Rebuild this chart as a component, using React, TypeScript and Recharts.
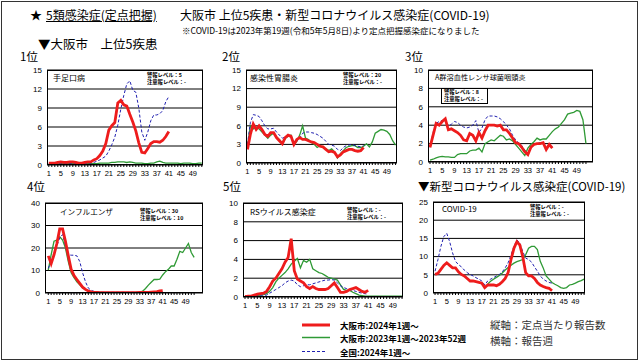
import React from "react";
import { LineChart, Line, XAxis, YAxis, CartesianGrid } from "recharts";

const JP = '"Noto Sans CJK JP", sans-serif';
const NUM = '"Liberation Sans", Arial, sans-serif';

const WEEKS = Array.from({ length: 52 }, (_, i) => i + 1);

// 手足口病
const hfmdOsaka2024 = [0.3, 0.3, 0.3, 0.4, 0.5, 0.4, 0.4, 0.5, 0.5, 0.4, 0.3, 0.3, 0.4, 0.5, 0.5, 0.8, 1.0, 1.5, 2.2, 3.4, 5.5, 6.2, 6.7, 9.8, 10.2, 9.5, 9.3, 8.0, 6.8, 5.4, 3.5, 2.0, 1.9, 2.6, 3.4, 3.7, 3.7, 3.6, 3.9, 4.5, 5.3];
const hfmdOsaka2023 = [0.2, 0.2, 0.2, 0.3, 0.3, 0.2, 0.2, 0.2, 0.3, 0.2, 0.2, 0.2, 0.2, 0.2, 0.2, 0.2, 0.2, 0.3, 0.3, 0.3, 0.3, 0.4, 0.4, 0.5, 0.5, 0.5, 0.4, 0.5, 0.4, 0.3, 0.3, 0.3, 0.2, 0.2, 0.3, 0.3, 0.5, 0.6, 0.4, 0.3, 0.3, 0.3, 0.3, 0.3, 0.2, 0.3, 0.3, 0.3, 0.2, 0.2, 0.3, 0.3];
const hfmdNational2024 = [0.2, 0.2, 0.2, 0.2, 0.2, 0.2, 0.2, 0.2, 0.2, 0.2, 0.2, 0.2, 0.2, 0.3, 0.3, 0.4, 0.6, 0.8, 1.1, 1.4, 2.2, 3.2, 4.4, 6.3, 8.8, 11.0, 12.8, 13.3, 11.8, 11.5, 9.0, 5.2, 3.9, 5.2, 7.0, 7.9, 7.9, 8.1, 8.6, 10.0, 10.8];

// 感染性胃腸炎
const gastroOsaka2024 = [2.2, 4.6, 6.3, 5.4, 6.0, 5.4, 4.6, 4.3, 4.9, 4.9, 4.1, 3.6, 3.1, 4.1, 4.5, 4.3, 3.0, 3.8, 4.1, 3.8, 3.8, 3.6, 3.4, 3.3, 3.0, 2.7, 2.6, 2.2, 1.8, 1.9, 1.7, 1.0, 1.3, 1.8, 2.0, 2.2, 2.2, 2.0, 1.9, 2.0, 2.5];
const gastroOsaka2023 = [2.5, 6.0, 5.5, 5.8, 5.5, 5.0, 4.5, 4.0, 4.5, 4.8, 4.2, 3.8, 3.2, 4.0, 4.3, 4.5, 3.0, 3.5, 4.5, 6.0, 4.0, 3.8, 3.3, 3.0, 2.5, 2.8, 2.5, 2.3, 2.0, 2.3, 1.8, 0.8, 1.5, 2.0, 2.5, 2.7, 2.8, 2.8, 2.5, 2.5, 2.7, 3.1, 2.6, 3.4, 4.8, 5.1, 5.4, 5.3, 5.1, 4.6, 3.6, 2.9];
const gastroNational2024 = [3.0, 6.5, 7.8, 7.7, 7.5, 6.8, 6.0, 5.5, 5.5, 5.6, 5.0, 4.5, 4.0, 4.2, 4.5, 4.2, 3.2, 3.5, 4.0, 4.8, 5.0, 5.0, 4.9, 4.8, 4.6, 4.3, 4.0, 3.5, 3.0, 2.9, 2.7, 2.2, 2.0, 2.5, 2.8, 2.9, 3.0, 2.8, 2.7, 2.6, 2.8];

// A群溶血性レンサ球菌咽頭炎
const strepOsaka2024 = [1.6, 2.9, 4.2, 4.0, 4.4, 4.7, 3.5, 3.6, 3.4, 3.2, 2.9, 2.4, 2.3, 3.1, 2.9, 2.3, 3.2, 2.6, 3.4, 4.0, 4.0, 4.0, 3.9, 4.0, 3.5, 3.5, 3.1, 2.6, 2.1, 2.0, 1.6, 1.1, 0.8, 1.6, 1.9, 2.0, 2.0, 2.1, 1.35, 1.9, 1.5];
const strepOsaka2023 = [0.2, 0.3, 0.45, 0.55, 0.6, 0.55, 0.55, 0.5, 0.5, 0.8, 0.9, 0.9, 0.9, 1.2, 1.3, 1.3, 1.5, 1.1, 2.0, 2.2, 2.4, 2.3, 2.6, 2.9, 2.8, 2.4, 2.5, 2.3, 1.9, 1.5, 1.1, 0.7, 1.5, 1.9, 2.2, 2.6, 2.4, 2.5, 2.5, 2.9, 3.3, 3.6, 3.8, 4.2, 4.6, 5.2, 5.3, 5.4, 5.6, 5.5, 4.6, 2.0];
const strepNational2024 = [1.6, 3.2, 4.2, 4.4, 4.5, 4.7, 3.9, 4.1, 4.4, 4.3, 4.0, 3.8, 3.7, 3.8, 4.0, 4.5, 3.2, 3.7, 4.6, 5.0, 5.0, 5.0, 4.9, 4.7, 4.4, 4.0, 3.6, 2.9, 2.4, 2.1, 1.8, 1.3, 1.0, 1.6, 1.9, 2.0, 2.1, 2.0, 1.8, 1.8, 1.7];

// インフルエンザ
const fluOsaka2024 = [16.5, 13, 17, 22, 28.5, 28.5, 23, 16.5, 10.5, 7.8, 6, 4.3, 2.6, 1.6, 0.9, 0.5, 0.3, 0.3, 0.2, 0.2, 0.2, 0.2, 0.2, 0.2, 0.2, 0.2, 0.2, 0.2, 0.2, 0.2, 0.2, 0.2, 0.3, 0.3, 0.3, 0.3, 0.4, 0.5, 0.6, 0.9, 1.0];
const fluOsaka2023 = [10.2, 17, 23, 23.5, 25, 23.5, 20, 14, 9, 6.8, 5, 3.6, 2.3, 1.5, 0.9, 0.5, 0.3, 0.3, 0.3, 0.2, 0.2, 0.2, 0.2, 0.2, 0.2, 0.2, 0.2, 0.2, 0.2, 0.2, 0.2, 0.3, 0.3, 0.8, 2, 3.5, 4.8, 6, 6, 6.2, 8, 9.5, 10.5, 12, 12, 15, 18.5, 18, 20, 22, 18, 15.8];
const fluNational2024 = [11, 14, 17, 21, 24.5, 26, 21, 17, 16.8, 16.8, 16.5, 14, 9, 5, 2.2, 1.2, 0.7, 0.5, 0.4, 0.3, 0.3, 0.3, 0.3, 0.3, 0.3, 0.3, 0.3, 0.3, 0.3, 0.3, 0.3, 0.3, 0.3, 0.3, 0.3, 0.3, 0.3, 0.3, 0.4, 0.4, 0.5];

// RSウイルス感染症
const rsvOsaka2024 = [0.05, 0.1, 0.1, 0.2, 0.3, 0.35, 0.4, 0.6, 1.1, 1.7, 2.0, 2.5, 3.0, 3.7, 4.2, 6.2, 2.8, 1.9, 1.7, 1.5, 1.1, 0.9, 1.1, 0.9, 0.8, 0.8, 0.8, 0.9, 1.2, 1.5, 1.0, 0.5, 0.5, 0.6, 0.8, 0.9, 1.0, 0.8, 0.6, 0.5, 0.7];
const rsvOsaka2023 = [0.1, 0.1, 0.1, 0.1, 0.15, 0.2, 0.25, 0.35, 0.6, 1.0, 1.6, 2.0, 2.3, 2.6, 3.0, 3.5, 3.8, 4.1, 3.1, 3.9, 3.7, 4.0, 3.0, 2.8, 2.6, 2.5, 2.3, 2.1, 2.0, 1.9, 1.8, 1.3, 0.8, 0.7, 0.7, 0.5, 0.35, 0.2, 0.15, 0.1, 0.1, 0.1, 0.1, 0.1, 0.1, 0.1, 0.1, 0.1, 0.1, 0.1, 0.1, 0.1];
const rsvNational2024 = [0.1, 0.1, 0.1, 0.1, 0.15, 0.2, 0.2, 0.2, 0.4, 0.6, 0.8, 1.0, 1.2, 1.5, 1.7, 1.8, 1.7, 1.3, 1.1, 1.2, 1.3, 1.3, 1.4, 1.5, 1.6, 1.7, 1.8, 1.8, 1.85, 1.8, 1.5, 1.2, 1.0, 0.9, 0.8, 0.7, 0.6, 0.5, 0.4, 0.35, 0.3];

// COVID-19 (2023年は第19週から定点把握)
const covidOsaka2024 = [5.1, 5.4, 6.5, 7.6, 8.3, 7.6, 6.9, 6.9, 5.8, 5.1, 4.7, 4.0, 3.3, 3.3, 3.1, 2.9, 2.7, 1.5, 2.2, 2.2, 2.2, 2.0, 2.4, 3.1, 4.0, 5.6, 9.2, 12.3, 14.1, 13.2, 10.0, 5.6, 4.7, 4.7, 4.0, 2.9, 2.2, 1.8, 1.5, 1.3, 0.6];
const covidOsaka2023 = [null, null, null, null, null, null, null, null, null, null, null, null, null, null, null, null, null, null, 2.5, 3.2, 3.8, 4.3, 4.8, 5.5, 6.3, 7.0, 7.6, 8.2, 8.6, 8.9, 9.2, 10.5, 12.3, 12.8, 12.8, 11.9, 8.7, 6.9, 4.7, 3.8, 2.9, 2.4, 2.0, 1.5, 1.3, 1.5, 2.2, 2.4, 2.7, 3.1, 3.4, 3.8];
const covidNational2024 = [6.0, 9.2, 12.8, 15.5, 16.4, 14.1, 11.0, 8.7, 7.8, 7.2, 6.3, 5.6, 5.1, 4.7, 4.2, 3.8, 3.3, 2.2, 3.3, 3.8, 4.2, 4.7, 5.1, 5.8, 6.9, 8.3, 10.5, 12.8, 14.6, 13.7, 11.4, 9.6, 9.2, 8.5, 7.2, 6.0, 4.7, 3.8, 3.3, 2.9, 2.7];

type Box = { x: number; y: number; w: number; h: number };

const renderWeekTick = (props: any) => {
  const { x, y, payload } = props;
  if ((payload.value - 1) % 4 !== 0) return <g />;
  return (
    <text x={x} y={y} dy={6.5} textAnchor="middle" fontSize={7.5} fill="#000" fontFamily={NUM}>
      {payload.value}
    </text>
  );
};

function Panel(props: {
  box: Box;
  yMax: number;
  yTicks: number[];
  xDomain: [number, number];
  osaka2024: (number | null)[];
  osaka2023: (number | null)[];
  national2024: (number | null)[];
}) {
  const { box, yMax, yTicks, xDomain } = props;
  const data = WEEKS.map((w, i) => ({
    week: w,
    osaka2024: props.osaka2024[i] ?? null,
    osaka2023: props.osaka2023[i] ?? null,
    national2024: props.national2024[i] ?? null,
  }));
  return (
    <>
      <div style={{ position: "absolute", left: box.x - 30, top: box.y - 5 }}>
        <LineChart width={box.w + 35} height={box.h + 20} data={data} margin={{ top: 5, right: 5, bottom: 0, left: 0 }}>
          <CartesianGrid vertical={false} stroke="#000" />
          <XAxis
            type="number"
            dataKey="week"
            domain={xDomain}
            ticks={WEEKS}
            interval={0}
            allowDataOverflow
            axisLine={false}
            tickSize={2}
            tickMargin={2}
            height={15}
            tickLine={{ stroke: "#000" }}
            tick={renderWeekTick}
          />
          <YAxis
            type="number"
            domain={[0, yMax]}
            ticks={yTicks}
            interval={0}
            allowDataOverflow
            tickLine={false}
            axisLine={false}
            width={30}
            tickSize={0}
            tickMargin={5}
            tick={{ fontSize: 8, fill: "#000", fontFamily: NUM }}
          />
          <Line dataKey="osaka2023" stroke="#2f9a35" strokeWidth={1.3} dot={false} isAnimationActive={false} />
          <Line dataKey="national2024" stroke="#2020b0" strokeWidth={1} strokeDasharray="3 2" dot={false} isAnimationActive={false} />
          <Line dataKey="osaka2024" stroke="#ee1c1c" strokeWidth={2.8} dot={false} isAnimationActive={false} />
        </LineChart>
      </div>
      <div
        style={{
          position: "absolute",
          left: box.x,
          top: box.y,
          width: box.w,
          height: box.h,
          border: "1px solid #000",
          boxSizing: "border-box",
          pointerEvents: "none",
        }}
      />
    </>
  );
}

function Txt(p: { x: number; y: number; size: number; bold?: boolean; color?: string; underline?: boolean; font?: string; children: React.ReactNode }) {
  return (
    <div
      style={{
        position: "absolute",
        left: p.x,
        top: p.y - p.size / 2,
        fontSize: p.size,
        lineHeight: 1,
        fontWeight: p.bold ? 700 : 400,
        color: p.color ?? "#000",
        textDecoration: p.underline ? "underline" : "none",
        fontFamily: p.font ?? JP,
        whiteSpace: "nowrap",
      }}
    >
      {p.children}
    </div>
  );
}

function Alarm(p: { x: number; y: number; alarm: string; caution: string }) {
  return (
    <div style={{ position: "absolute", left: p.x, top: p.y, fontSize: 5.3, lineHeight: "6.5px", fontWeight: 700, fontFamily: JP, whiteSpace: "nowrap" }}>
      <div>警報レベル：{p.alarm}</div>
      <div>注意報レベル：{p.caution}</div>
    </div>
  );
}

export default function App() {
  return (
    <div style={{ position: "absolute", left: 0, top: 0, width: 640, height: 362, background: "#fff", overflow: "hidden", fontFamily: JP }}>
      <div style={{ position: "absolute", left: 1, top: 1, width: 637, height: 359, border: "1px solid #333", boxSizing: "border-box" }} />

      <Txt x={30} y={15} size={12}>★</Txt>
      <Txt x={46} y={15} size={12} underline>5類感染症(定点把握)</Txt>
      <Txt x={180} y={15} size={12}>大阪市 上位5疾患・新型コロナウイルス感染症(COVID-19)</Txt>
      <Txt x={182} y={30} size={8.5}>※COVID-19は2023年第19週(令和5年5月8日)より定点把握感染症になりました</Txt>
      <Txt x={38} y={44} size={12.5}>▼大阪市　上位5疾患</Txt>

      <Txt x={20} y={57} size={11.5}>1位</Txt>
      <Txt x={222} y={57} size={11.5}>2位</Txt>
      <Txt x={405} y={57} size={11.5}>3位</Txt>
      <Txt x={27} y={187} size={11.5}>4位</Txt>
      <Txt x={223} y={187} size={11.5}>5位</Txt>
      <Txt x={418} y={187} size={11.5}>▼新型コロナウイルス感染症(COVID-19)</Txt>

      <Panel box={{ x: 47, y: 70, w: 156, h: 95 }} yMax={15} yTicks={[0, 3, 6, 9, 12, 15]} xDomain={[0.4, 52.4]}
        osaka2024={hfmdOsaka2024} osaka2023={hfmdOsaka2023} national2024={hfmdNational2024} />
      <Panel box={{ x: 246, y: 70, w: 151, h: 93 }} yMax={15} yTicks={[0, 3, 6, 9, 12, 15]} xDomain={[0.5, 52.5]}
        osaka2024={gastroOsaka2024} osaka2023={gastroOsaka2023} national2024={gastroNational2024} />
      <Panel box={{ x: 428, y: 70, w: 165, h: 92 }} yMax={10} yTicks={[0, 2, 4, 6, 8, 10]} xDomain={[0.35, 54.3]}
        osaka2024={strepOsaka2024} osaka2023={strepOsaka2023} national2024={strepNational2024} />
      <Panel box={{ x: 45, y: 203, w: 158, h: 90 }} yMax={40} yTicks={[0, 10, 20, 30, 40]} xDomain={[-0.15, 55.1]}
        osaka2024={fluOsaka2024} osaka2023={fluOsaka2023} national2024={fluNational2024} />
      <Panel box={{ x: 243, y: 203, w: 160, h: 94 }} yMax={10} yTicks={[0, 2, 4, 6, 8, 10]} xDomain={[0.35, 52.3]}
        osaka2024={rsvOsaka2024} osaka2023={rsvOsaka2023} national2024={rsvNational2024} />
      <Panel box={{ x: 433, y: 202, w: 152, h: 91 }} yMax={25} yTicks={[0, 5, 10, 15, 20, 25]} xDomain={[0.3, 52.3]}
        osaka2024={covidOsaka2024} osaka2023={covidOsaka2023} national2024={covidNational2024} />

      {/* panel titles */}
      <Txt x={53} y={78} size={8}>手足口病</Txt>
      <Alarm x={147} y={72} alarm="5" caution="-" />
      <Txt x={250} y={78} size={8}>感染性胃腸炎</Txt>
      <Alarm x={343} y={72} alarm="20" caution="-" />
      <Txt x={435} y={78} size={7.2}>A群溶血性レンサ球菌咽頭炎</Txt>
      <div style={{ position: "absolute", left: 441, top: 88, width: 47, height: 16, border: "1px solid #000", background: "#fff", boxSizing: "border-box" }} />
      <Alarm x={444} y={89} alarm="8" caution="-" />
      <Txt x={60} y={212} size={7.6}>インフルエンザ</Txt>
      <Alarm x={140} y={208} alarm="30" caution="10" />
      <Txt x={250} y={212} size={8}>RSウイルス感染症</Txt>
      <Alarm x={347} y={207} alarm="-" caution="-" />
      <Txt x={442} y={209} size={8}>COVID-19</Txt>
      <Alarm x={530} y={204} alarm="-" caution="-" />

      {/* legend */}
      <svg style={{ position: "absolute", left: 0, top: 0 }} width={640} height={362}>
        <line x1={302} x2={330} y1={325} y2={325} stroke="#ee1c1c" strokeWidth={3} />
        <line x1={302} x2={330} y1={337.5} y2={337.5} stroke="#2f9a35" strokeWidth={1.5} />
        <line x1={302} x2={327} y1={351.5} y2={351.5} stroke="#2020b0" strokeWidth={1} strokeDasharray="3 2" />
      </svg>
      <Txt x={340} y={325} size={8.5} bold>大阪市:2024年1週〜</Txt>
      <Txt x={340} y={338} size={8.5} bold>大阪市:2023年1週〜2023年52週</Txt>
      <Txt x={340} y={352} size={8.5} bold>全国:2024年1週〜</Txt>
      <Txt x={490} y={325} size={10.5} color="#333">縦軸：定点当たり報告数</Txt>
      <Txt x={490} y={341} size={10.5} color="#333">横軸：報告週</Txt>
    </div>
  );
}
